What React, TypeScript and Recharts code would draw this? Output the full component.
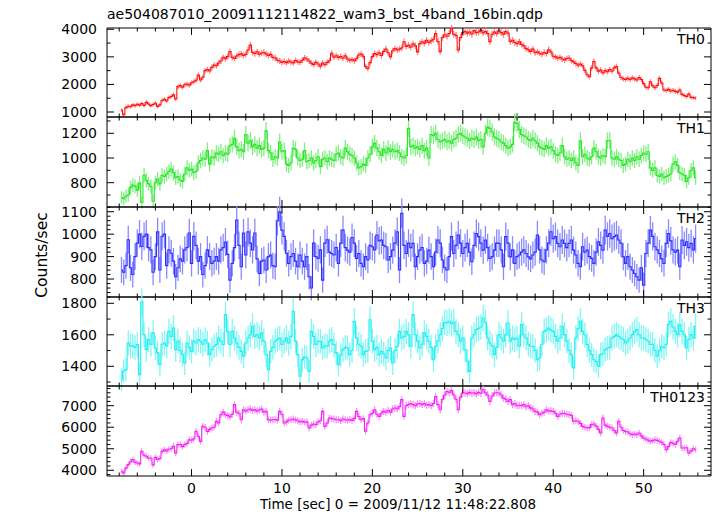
import React from 'react';
import { ComposedChart, Line, XAxis, YAxis, ErrorBar, ReferenceLine } from 'recharts';

// ---- data (0.25 s bins, first bin centre at -7.75 s) ----
const T0 = -7.75;
const BIN = 0.25;

const th0 = [
  1070, 900, 1160, 1210, 1190, 1260, 1230, 1280,
  1250, 1310, 1240, 1350, 1290, 1230, 1270, 1320,
  1200, 1260, 1420, 1460, 1400, 1520, 1560, 1620,
  1470, 1920, 1960, 1900, 1990, 2010, 1970, 2060,
  2100, 2150, 2340, 2160, 2260, 2500, 2540, 2490,
  2620, 2700, 2680, 2780, 2850, 2980, 2930, 3010,
  3190, 2980, 2940, 3030, 3080, 3110, 3050, 3090,
  3250, 3430, 3160, 3120, 3180, 3100, 3140, 3160,
  3110, 3050, 3090, 2980, 2960, 2880, 2850, 2800,
  2830, 2790, 2850, 2810, 2780, 2870, 2820, 2800,
  2880, 2960, 2920, 2850, 2770, 2720, 2800, 2740,
  2660, 2780, 2720, 2800, 2860, 3130, 2990, 3040,
  2980, 3010, 2950, 3040, 2920, 2880, 2900, 2860,
  2930, 3070, 3100, 3020, 2650, 2580, 2790, 3010,
  3120, 3080, 3150, 3050, 3200, 3280, 3150, 3000,
  3220, 3300, 3250, 3280, 3320, 3550, 3380, 3420,
  3350, 3470, 3400, 3180, 3480, 3550, 3500, 3600,
  3520, 3580, 3640, 3850, 3560, 3190, 3700, 3800,
  3750, 3850, 4030, 3820, 3780, 3250, 3700, 3880,
  3920, 3860, 3900, 3830, 3950, 3880, 3900, 3960,
  3870, 3920, 3850, 3550, 3820, 3900, 3850, 3940,
  3880, 3820, 3920, 3860, 3560, 3600, 3520, 3480,
  3550, 3450, 3400, 3300, 3260, 3200, 3280, 3150,
  3180, 3130, 3100, 3160, 3120, 3260, 3180, 3020,
  3000, 2950, 2980, 2920, 2890, 2940, 2960, 2870,
  2820, 2760, 2700, 2740, 2680, 2510, 2350, 2280,
  2600, 2830, 2600, 2480, 2520, 2420, 2500, 2460,
  2540, 2480, 2600, 2650, 2410, 2250, 2200, 2180,
  2220, 2180, 2240, 2200, 2160, 2250, 2180, 2030,
  1900, 1880, 2100, 1950, 1880, 1960, 2220, 2050,
  1800, 1780, 1820, 1760, 1790, 1750, 1720, 1800,
  1640, 1600, 1560, 1650, 1530, 1520, 1500,
];

const th1 = [
  680, 670, 690, 700, 760, 780, 770, 740,
  800, 640, 860, 820, 790, 770, 650, 800,
  830, 790, 860, 850, 870, 890, 910, 880,
  840, 850, 820, 810, 870, 920, 900, 910,
  880, 890, 960, 980, 1000, 990, 1060, 950,
  1010, 1000, 1040, 1030, 1050, 1020, 1040, 1030,
  1100, 1110, 1160, 1090, 1060, 1070, 1050, 1190,
  1120, 1140, 1090, 1110, 1080, 1100, 1070, 1080,
  1220, 1060, 1040, 990, 1010, 1000, 1130, 1050,
  1060, 950, 940, 960, 1080, 1070, 1000, 980,
  990, 1060, 970, 980, 1000, 960, 980, 1010,
  930, 990, 1000, 970, 1000, 990, 980, 1030,
  1040, 1010, 1000, 1080, 1050, 1030, 1020, 1000,
  960, 920, 930, 950, 940, 1000, 1030, 1090,
  1120, 1080, 1050, 1020, 1070, 1040, 1080, 1050,
  1070, 1050, 1060, 1040, 1010, 1000, 1020, 1240,
  1090, 1100, 1080, 1090, 1070, 1100, 1060, 1080,
  1000, 1190, 1180, 1200, 1150, 1130, 1140, 1150,
  1130, 1140, 1120, 1150, 1160, 1190, 1200, 1180,
  1170, 1160, 1140, 1160, 1150, 1170, 1140, 1150,
  1090, 1200, 1250, 1240, 1210, 1170, 1160, 1150,
  1130, 1120, 1100, 1080, 1090, 1110, 1290, 1280,
  1230, 1190, 1180, 1170, 1150, 1140, 1160, 1140,
  1120, 1090, 1080, 1070, 1100, 1080, 1090, 1060,
  1030, 1020, 1040, 1100, 1010, 990, 1000, 980,
  1000, 960, 940, 1140, 1010, 1030, 1000, 990,
  1010, 1080, 1050, 1010, 1000, 1020, 1010, 1140,
  1140, 1000, 990, 1010, 990, 980, 940, 950,
  990, 970, 1000, 980, 1010, 990, 1020, 1040,
  1030, 1050, 920, 900, 920, 860, 850, 870,
  840, 850, 860, 870, 950, 970, 940, 880,
  870, 860, 810, 840, 900, 920, 840,
];

const th2 = [
  840, 830, 860, 975, 850, 820, 900, 960,
  1000, 945, 990, 1000, 940, 930, 830, 900,
  1010, 840, 990, 1000, 860, 930, 915, 880,
  810, 850, 890, 880, 930, 940, 1005, 870,
  990, 950, 880, 900, 820, 860, 930, 900,
  870, 880, 900, 880, 930, 940, 965, 910,
  795, 870, 940, 1063, 950, 855, 1005, 907,
  1010, 960, 930, 1005, 890, 825, 880, 885,
  840, 900, 907, 860, 855, 1060, 1100, 1018,
  990, 915, 870, 900, 914, 880, 855, 907,
  880, 855, 900, 810, 760, 960, 900, 892,
  930, 795, 960, 975, 920, 914, 907, 940,
  870, 960, 1018, 940, 929, 920, 985, 960,
  892, 914, 870, 855, 900, 885, 950, 944,
  930, 996, 970, 974, 950, 944, 885, 900,
  929, 960, 1011, 840, 1093, 950, 914, 960,
  940, 959, 855, 900, 929, 940, 870, 880,
  929, 900, 855, 920, 974, 960, 885, 850,
  840, 900, 989, 914, 950, 996, 960, 914,
  940, 959, 920, 877, 950, 1003, 989, 960,
  929, 974, 940, 892, 900, 929, 960, 959,
  930, 855, 989, 960, 899, 930, 870, 900,
  907, 920, 930, 914, 899, 890, 907, 920,
  996, 930, 885, 877, 930, 960, 1011, 980,
  989, 959, 944, 974, 959, 940, 959, 974,
  929, 907, 870, 855, 944, 920, 929, 900,
  892, 870, 920, 966, 950, 929, 1018, 990,
  1003, 980, 989, 996, 974, 960, 899, 870,
  900, 855, 840, 825, 810, 795, 850, 773,
  914, 960, 1018, 990, 944, 930, 914, 890,
  870, 959, 1003, 970, 930, 920, 929, 855,
  974, 950, 966, 940, 959, 930, 980,
];

const th3 = [
  1315, 1370, 1380, 1548, 1527, 1530, 1520, 1538,
  1347, 1810, 1600, 1506, 1570, 1540, 1612, 1516,
  1485, 1411, 1540, 1548, 1530, 1622, 1590, 1643,
  1506, 1560, 1500, 1474, 1421, 1548, 1520, 1495,
  1560, 1548, 1570, 1559, 1540, 1569, 1548, 1474,
  1506, 1527, 1538, 1580, 1560, 1538, 1728, 1620,
  1538, 1622, 1580, 1548, 1520, 1495, 1464, 1548,
  1580, 1600, 1654, 1590, 1601, 1580, 1612, 1560,
  1474, 1379, 1495, 1520, 1559, 1570, 1580, 1538,
  1560, 1580, 1548, 1590, 1750, 1560, 1474, 1337,
  1442, 1460, 1453, 1368, 1622, 1590, 1538, 1560,
  1559, 1516, 1530, 1527, 1559, 1570, 1538, 1485,
  1411, 1470, 1506, 1520, 1516, 1474, 1500, 1686,
  1580, 1540, 1527, 1474, 1495, 1500, 1696, 1560,
  1506, 1520, 1474, 1495, 1480, 1453, 1500, 1516,
  1421, 1500, 1527, 1622, 1580, 1590, 1622, 1600,
  1527, 1728, 1600, 1560, 1516, 1540, 1612, 1590,
  1559, 1520, 1442, 1527, 1560, 1601, 1640, 1680,
  1675, 1686, 1670, 1680, 1622, 1600, 1559, 1580,
  1506, 1432, 1368, 1580, 1600, 1633, 1640, 1650,
  1707, 1680, 1580, 1548, 1530, 1474, 1520, 1601,
  1580, 1559, 1600, 1675, 1559, 1580, 1570, 1580,
  1527, 1665, 1600, 1580, 1540, 1527, 1527, 1500,
  1442, 1453, 1540, 1622, 1630, 1643, 1630, 1622,
  1590, 1559, 1580, 1654, 1601, 1560, 1500, 1474,
  1390, 1580, 1640, 1686, 1622, 1600, 1538, 1500,
  1474, 1442, 1430, 1400, 1474, 1480, 1506, 1516,
  1520, 1580, 1590, 1601, 1590, 1580, 1570, 1548,
  1560, 1580, 1601, 1620, 1633, 1600, 1580, 1580,
  1570, 1559, 1538, 1540, 1500, 1464, 1500, 1527,
  1516, 1540, 1665, 1686, 1650, 1622, 1600, 1665,
  1622, 1600, 1516, 1570, 1601, 1580, 1654,
];

const th0123 = [
  3955, 3877, 4100, 4263, 4400, 4496, 4380, 4340,
  4300, 4882, 4700, 4650, 4573, 4560, 4250, 4600,
  4500, 4550, 4880, 4950, 4900, 4980, 5000, 5115,
  4805, 5190, 5200, 5100, 5190, 5250, 5420, 5400,
  5450, 5810, 5580, 5345, 6040, 6000, 5800, 5900,
  5965, 6000, 6275, 6200, 6580, 6700, 6580, 6550,
  6480, 6600, 7050, 6700, 6650, 6350, 6815, 6750,
  6815, 6850, 6780, 6820, 6750, 6800, 6850, 6700,
  6740, 6350, 6330, 6350, 6360, 6330, 6737, 6600,
  6200, 6250, 6330, 6350, 6380, 6340, 6300, 6250,
  6270, 6230, 6250, 5965, 6100, 6150, 6120, 6250,
  6300, 6737, 6040, 6200, 6430, 6400, 6380, 6350,
  6350, 6300, 6380, 6350, 6330, 6360, 6320, 6400,
  6737, 6500, 6350, 6400, 5810, 6200, 6580, 6650,
  6815, 6600, 6505, 6650, 6737, 6700, 6780, 6700,
  6850, 6890, 6860, 6950, 7280, 6505, 7000, 7050,
  7100, 7050, 7000, 7080, 7100, 7050, 7100, 7020,
  7050, 7000, 7100, 7430, 7050, 6815, 7300, 7500,
  7660, 7600, 7700, 7500, 7300, 6815, 7400, 7590,
  7590, 7560, 7620, 7580, 7600, 7550, 7620, 7580,
  7740, 7600, 7500, 7200, 7450, 7590, 7600, 7590,
  7500, 7350, 7300, 7200, 7280, 7050, 7100, 7000,
  7020, 7000, 7050, 6950, 7000, 6900, 6850, 6737,
  6700, 6580, 6650, 6700, 6815, 6750, 6760, 6737,
  6650, 6505, 6600, 6650, 6640, 6600, 6580, 6550,
  6275, 6300, 6275, 6180, 6040, 6000, 5965, 5980,
  6120, 6150, 6050, 5900, 5730, 6430, 6100, 6040,
  6000, 5965, 5850, 5730, 6275, 6000, 5850, 5800,
  5780, 5700, 5655, 5680, 5650, 5730, 5600, 5500,
  5450, 5400, 5350, 5380, 5420, 5390, 5350, 5300,
  5200, 4960, 5100, 5300, 5250, 5200, 5350, 5500,
  5037, 5037, 5050, 4805, 4900, 5000, 4960,
];

const xTicks = [-8, -6, -4, -2, 0, 2, 4, 6, 8, 10, 12, 14, 16, 18, 20, 22, 24, 26, 28, 30, 32, 34, 36, 38, 40, 42, 44, 46, 48, 50, 52, 54, 56];
const xMajor = [0, 10, 20, 30, 40, 50];

const th0Ticks = [1000, 1500, 2000, 2500, 3000, 3500, 4000];
const th0Major = [1000, 2000, 3000, 4000];
const th1Ticks = [700, 800, 900, 1000, 1100, 1200, 1300];
const th1Major = [800, 1000, 1200];
const th2Ticks = [720, 740, 760, 780, 800, 820, 840, 860, 880, 900, 920, 940, 960, 980, 1000, 1020, 1040, 1060, 1080, 1100, 1120];
const th2Major = [800, 900, 1000, 1100];
const th3Ticks = [1300, 1400, 1500, 1600, 1700, 1800];
const th3Major = [1400, 1600, 1800];
const th0123Ticks = [3800, 4000, 4200, 4400, 4600, 4800, 5000, 5200, 5400, 5600, 5800, 6000, 6200, 6400, 6600, 6800, 7000, 7200, 7400, 7600, 7800];
const th0123Major = [4000, 5000, 6000, 7000];

// ---- layout ----
const W = 717;
const H = 516;
const PLOT_L = 107;
const PLOT_R = 711;
const PLOT_W = PLOT_R - PLOT_L;
const X_DOMAIN: [number, number] = [-9.35, 57.45];
const PAD = 14;
const FONT = "'DejaVu Sans', 'Liberation Sans', sans-serif";

const panels = [
  { name: 'TH0', values: th0, color: '#ff1010', light: '#ff8080', domain: [819, 4047], ticks: th0Ticks, majors: th0Major, top: 28, height: 89 },
  { name: 'TH1', values: th1, color: '#22e822', light: '#80f080', domain: [603, 1332], ticks: th1Ticks, majors: th1Major, top: 117, height: 90 },
  { name: 'TH2', values: th2, color: '#2e2eff', light: '#8a8aff', domain: [720, 1121], ticks: th2Ticks, majors: th2Major, top: 207, height: 90 },
  { name: 'TH3', values: th3, color: '#1ef0f0', light: '#80f6f6', domain: [1275, 1840], ticks: th3Ticks, majors: th3Major, top: 297, height: 89 },
  { name: 'TH0123', values: th0123, color: '#f522f5', light: '#f890f8', domain: [3735, 7915], ticks: th0123Ticks, majors: th0123Major, top: 386, height: 90 },
];

function Panel({ cfg, showX }: { cfg: any; showX: boolean }) {
  const data = cfg.values.map((v: number, i: number) => ({
    x: T0 + i * BIN,
    y: v,
    ey: Math.sqrt(v / BIN),
  }));
  const h = cfg.height;
  const axisH = PAD + (showX ? 40 : 0);

  const renderXTick = (props: any) => {
    const { x, y, payload } = props;
    const major = xMajor.includes(payload.value);
    const len = major ? 7 : 3.5;
    const yTop = y - h;
    return (
      <g>
        <line x1={x} x2={x} y1={y} y2={y - len} stroke="#000" strokeWidth={1} />
        <line x1={x} x2={x} y1={yTop} y2={yTop + len} stroke="#000" strokeWidth={1} />
        {showX && major ? (
          <text x={x} y={y + 17} textAnchor="middle" fontFamily={FONT} fontSize={14} fill="#000">
            {payload.value}
          </text>
        ) : null}
      </g>
    );
  };

  const renderYTick = (props: any) => {
    const { x, y, payload } = props;
    const major = cfg.majors.includes(payload.value);
    const len = major ? 7 : 3.5;
    return (
      <g>
        <line x1={x} x2={x + len} y1={y} y2={y} stroke="#000" strokeWidth={1} />
        <line x1={x + PLOT_W} x2={x + PLOT_W - len} y1={y} y2={y} stroke="#000" strokeWidth={1} />
        {major ? (
          <text x={x - 10} y={y} dy="0.36em" textAnchor="end" fontFamily={FONT} fontSize={14} fill="#000">
            {payload.value}
          </text>
        ) : null}
      </g>
    );
  };

  return (
    <div style={{ position: 'absolute', left: 0, top: cfg.top - PAD }}>
      <ComposedChart
        width={W}
        height={h + PAD + axisH}
        data={data}
        margin={{ top: PAD, right: W - PLOT_R, bottom: 0, left: 0 }}
      >
        <XAxis
          type="number"
          dataKey="x"
          domain={X_DOMAIN}
          ticks={xTicks}
          interval={0}
          allowDataOverflow
          height={axisH}
          tickSize={0}
          tickMargin={0}
          tickLine={false}
          axisLine={{ stroke: '#000', strokeWidth: 1 }}
          tick={renderXTick}
        />
        <YAxis
          type="number"
          domain={cfg.domain}
          ticks={cfg.ticks}
          interval={0}
          allowDataOverflow
          width={PLOT_L}
          tickSize={0}
          tickMargin={0}
          tickLine={false}
          axisLine={{ stroke: '#000', strokeWidth: 1 }}
          tick={renderYTick}
        />
        <ReferenceLine y={cfg.domain[1]} stroke="#000" strokeWidth={1} ifOverflow="visible" />
        <ReferenceLine x={X_DOMAIN[1]} stroke="#000" strokeWidth={1} ifOverflow="visible" />
        <Line
          type="step"
          dataKey="y"
          stroke={cfg.color}
          strokeWidth={1.1}
          dot={false}
          activeDot={false}
          isAnimationActive={false}
        >
          <ErrorBar dataKey="ey" direction="y" width={0} stroke={cfg.light} strokeWidth={1.3} isAnimationActive={false} />
        </Line>
      </ComposedChart>
    </div>
  );
}

export default function App() {
  return (
    <div style={{ position: 'absolute', left: 0, top: 0, width: W, height: H, background: '#fff', overflow: 'hidden' }}>
      {panels.map((p, i) => (
        <Panel key={p.name} cfg={p} showX={i === panels.length - 1} />
      ))}
      <svg width={W} height={H} style={{ position: 'absolute', left: 0, top: 0, pointerEvents: 'none' }}>
        <text x={107} y={19} fontFamily={FONT} fontSize={14} fill="#000">
          ae504087010_20091112114822_wam3_bst_4band_16bin.qdp
        </text>
        {panels.map((p) => (
          <text key={p.name} x={705} y={p.top + 15.5} textAnchor="end" fontFamily={FONT} fontSize={14} fill="#000">
            {p.name}
          </text>
        ))}
        <text transform="translate(46.5,255) rotate(-90)" textAnchor="middle" fontFamily={FONT} fontSize={15.5} fill="#000">
          Counts/sec
        </text>
        <text x={398} y={509} textAnchor="middle" fontFamily={FONT} fontSize={13.5} fill="#000">
          Time [sec] 0 = 2009/11/12 11:48:22.808
        </text>
      </svg>
    </div>
  );
}
